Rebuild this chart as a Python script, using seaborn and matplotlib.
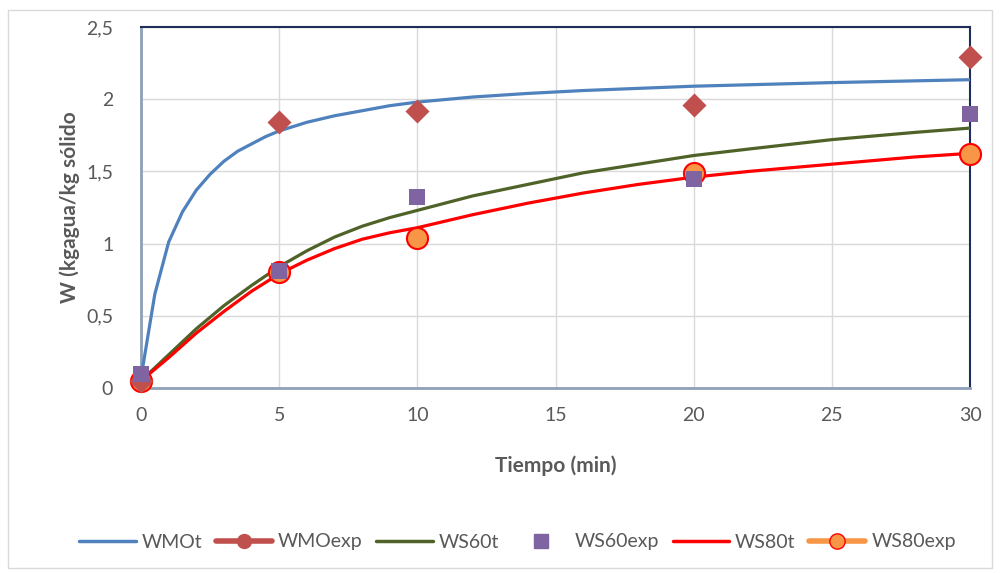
import matplotlib
matplotlib.use("Agg")
import matplotlib.pyplot as plt
import seaborn as sns
import pandas as pd
from matplotlib.lines import Line2D
from matplotlib.patches import Rectangle

# ---- data ----
t_wmo = [0, 0.5, 1, 1.5, 2, 2.5, 3, 3.5, 4, 4.5, 5, 6, 7, 8, 9, 10, 12, 14, 16, 18, 20, 25, 30]
wmo_t = [0.07, 0.65, 1.01, 1.22, 1.37, 1.48, 1.57, 1.64, 1.69, 1.74, 1.78, 1.84, 1.885, 1.92, 1.955, 1.98,
         2.015, 2.04, 2.06, 2.075, 2.09, 2.115, 2.135]

t_ws = [0, 1, 2, 3, 4, 5, 6, 7, 8, 9, 10, 12, 14, 16, 18, 20, 22, 25, 28, 30]
ws60_t = [0.05, 0.23, 0.41, 0.57, 0.71, 0.84, 0.95, 1.045, 1.12, 1.18, 1.23, 1.33, 1.41, 1.49, 1.55, 1.61,
          1.655, 1.72, 1.77, 1.80]
ws80_t = [0.05, 0.21, 0.38, 0.53, 0.67, 0.79, 0.885, 0.965, 1.03, 1.075, 1.11, 1.20, 1.28, 1.35, 1.41, 1.46,
          1.50, 1.55, 1.60, 1.625]

t_exp = [0, 5, 10, 20, 30]
wmo_exp = [0.05, 1.84, 1.92, 1.96, 2.29]
ws60_exp = [0.10, 0.81, 1.32, 1.45, 1.90]
ws80_exp = [0.05, 0.80, 1.04, 1.49, 1.62]

x_ticks = [0, 5, 10, 15, 20, 25, 30]
y_ticks = [0, 0.5, 1, 1.5, 2, 2.5]
y_ticklabels = ["0", "0,5", "1", "1,5", "2", "2,5"]

# ---- styling ----
sns.set_theme(style="white")
plt.rcParams['font.family'] = ['Lato', 'DejaVu Sans']

c_wmo_t = "#4F81BD"
c_wmo_e = "#C0504D"
c_ws60_t = "#4F6228"
c_ws60_e = "#8064A2"
c_ws80_t = "#FF0000"
c_ws80_e = "#F79646"
gray_txt = "#595959"

fig = plt.figure(figsize=(10.01, 5.73), dpi=100)
ax = fig.add_axes([141/1001, 1 - 388/573, (970-141)/1001, (388-27)/573])

fig.patches.append(Rectangle((8/1001, 5/573), 984/1001, 558/573, transform=fig.transFigure,
                             fill=False, edgecolor="#D9D9D9", linewidth=1))

df_wmo = pd.DataFrame({"t": t_wmo, "W": wmo_t})
df_ws60 = pd.DataFrame({"t": t_ws, "W": ws60_t})
df_ws80 = pd.DataFrame({"t": t_ws, "W": ws80_t})
df_exp = pd.DataFrame({"t": t_exp, "wmo": wmo_exp, "ws60": ws60_exp, "ws80": ws80_exp})

sns.lineplot(data=df_wmo, x="t", y="W", ax=ax, color=c_wmo_t, linewidth=2.3, zorder=3)
sns.lineplot(data=df_ws60, x="t", y="W", ax=ax, color=c_ws60_t, linewidth=2.3, zorder=3)
sns.lineplot(data=df_ws80, x="t", y="W", ax=ax, color=c_ws80_t, linewidth=2.3, zorder=3)

sns.scatterplot(data=df_exp, x="t", y="ws80", ax=ax, marker="o", s=230, color=c_ws80_e,
                edgecolor=c_ws80_t, linewidth=1.5, zorder=4, clip_on=False)
sns.scatterplot(data=df_exp, x="t", y="wmo", ax=ax, marker="D", s=150, color=c_wmo_e,
                edgecolor=c_wmo_e, linewidth=0, zorder=5, clip_on=False)
sns.scatterplot(data=df_exp, x="t", y="ws60", ax=ax, marker="s", s=130, color=c_ws60_e,
                edgecolor=c_ws60_e, linewidth=0, zorder=6, clip_on=False)

ax.set_xlim(0, 30)
ax.set_ylim(0, 2.5)
ax.set_xticks(x_ticks)
ax.set_xticklabels([str(v) for v in x_ticks])
ax.set_yticks(y_ticks)
ax.set_yticklabels(y_ticklabels)
ax.tick_params(axis="x", labelsize=14, colors=gray_txt, length=0, pad=14)
ax.tick_params(axis="y", labelsize=14, colors=gray_txt, length=0, pad=20)
ax.grid(True, color="#D9D9D9", linewidth=1)
ax.set_axisbelow(True)

for side in ["top", "right"]:
    ax.spines[side].set_color("#1F2D5A")
    ax.spines[side].set_linewidth(1.5)
for side in ["left", "bottom"]:
    ax.spines[side].set_color("#8EA0B8")
    ax.spines[side].set_linewidth(2)

ax.set_xlabel("Tiempo (min)", fontsize=15, fontweight="bold", color=gray_txt, labelpad=22)
ax.set_ylabel("W (kgagua/kg sólido", fontsize=15, fontweight="bold", color=gray_txt)
ax.yaxis.set_label_coords(-0.074, 0.5)

handles = [
    Line2D([], [], color=c_wmo_t, lw=2.5),
    Line2D([], [], color=c_wmo_e, lw=4, marker="o", markersize=10, markerfacecolor=c_wmo_e, markeredgecolor=c_wmo_e),
    Line2D([], [], color=c_ws60_t, lw=2.5),
    Line2D([], [], color=c_ws60_e, lw=0, marker="s", markersize=10),
    Line2D([], [], color=c_ws80_t, lw=2.5),
    Line2D([], [], color=c_ws80_e, lw=4, marker="o", markersize=11, markerfacecolor=c_ws80_e, markeredgecolor=c_ws80_t),
]
labels = ["WMOt", "WMOexp", "WS60t", "WS60exp", "WS80t", "WS80exp"]
fig.legend(handles, labels, loc="center", bbox_to_anchor=(0.517, 1 - 542/573), ncol=6,
           frameon=False, fontsize=14, handlelength=2.9, handletextpad=0.3, columnspacing=0.7,
           labelcolor=gray_txt)

fig.savefig("out.png", dpi=100)
